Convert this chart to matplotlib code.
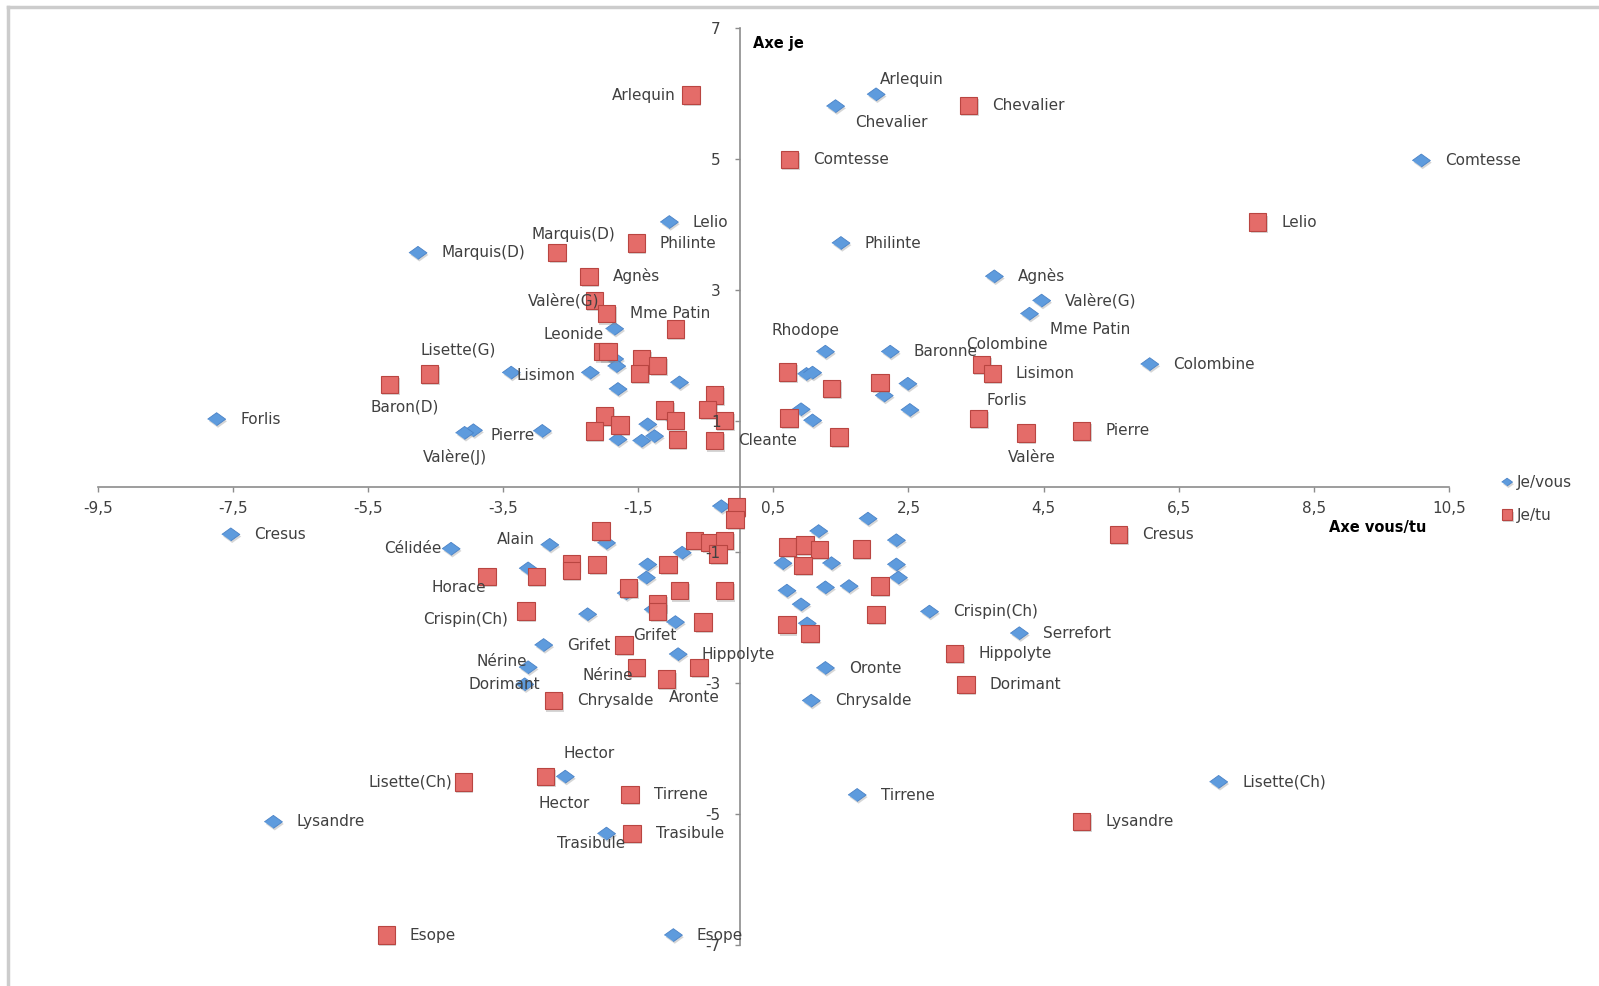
import matplotlib
matplotlib.use("Agg")
import matplotlib.pyplot as plt
import matplotlib.patheffects as pe
from matplotlib.lines import Line2D
from matplotlib.ticker import FixedLocator, FuncFormatter

# Je/vous series (blue diamonds) -- '' = no label
vous_names = ['Arlequin', 'Chevalier', 'Comtesse', 'Lelio', 'Philinte', 'Marquis(D)',
              'Agnès', 'Valère(G)', 'Mme Patin', 'Leonide', 'Rhodope', 'Baronne',
              'Colombine', 'Lisimon', 'Forlis', 'Pierre', 'Valère(J)', 'Cresus',
              'Célidée', 'Alain', 'Crispin(Ch)', 'Serrefort', 'Grifet', 'Hippolyte',
              'Nérine', 'Dorimant', 'Oronte', 'Chrysalde', 'Hector', 'Tirrene',
              'Lisette(Ch)', 'Lysandre', 'Trasibule', 'Esope'] + [''] * 40
vous_x = [2.02, 1.42, 10.09, -1.04, 1.50, -4.76, 3.77, 4.47, 4.29, -1.85, 1.27, 2.23,
          6.07, -3.38, -7.74, -3.94, -4.07, -7.53, -4.27, -2.81, 2.81, 4.14, -2.90, -0.91,
          -3.13, -3.18, 1.27, 1.06, -2.58, 1.74, 7.09, -6.90, -1.97, -0.98,
          -2.21, -1.85, -1.82, -1.80, -0.89, -0.99, -1.36, -1.26, -1.45, -1.80,
          -2.92, 0.99, 1.08, 2.14, 2.49, 2.52, 0.91, 1.08, -0.27, -1.97,
          -0.85, -1.36, -1.38, -3.13, -1.68, -1.28, -2.25, -0.95, 1.90, 1.17,
          2.32, 1.36, 2.32, 2.35, 1.27, 1.62, 0.64, 0.70, 0.91, 1.00]
vous_y = [5.99, 5.81, 4.98, 4.04, 3.72, 3.57, 3.21, 2.84, 2.64, 2.41, 2.06, 2.06,
          1.87, 1.74, 1.03, 0.86, 0.82, -0.73, -0.95, -0.89, -1.91, -2.24, -2.42, -2.56,
          -2.76, -3.02, -2.77, -3.27, -4.43, -4.71, -4.51, -5.12, -5.30, -6.85,
          1.74, 1.95, 1.84, 1.49, 1.59, 1.04, 0.95, 0.77, 0.70, 0.72,
          0.85, 1.72, 1.74, 1.39, 1.57, 1.17, 1.18, 1.01, -0.30, -0.86,
          -1.01, -1.19, -1.39, -1.25, -1.63, -1.88, -1.95, -2.07, -0.49, -0.68,
          -0.82, -1.17, -1.19, -1.39, -1.54, -1.52, -1.17, -1.59, -1.80, -2.09]

# Je/tu series (red squares)
tu_names = ['Arlequin', 'Chevalier', 'Comtesse', 'Lelio', 'Philinte', 'Marquis(D)',
            'Agnès', 'Valère(G)', 'Mme Patin', 'Lisette(G)', 'Baron(D)', 'Colombine',
            'Lisimon', 'Forlis', 'Valère', 'Pierre', 'Cleante', 'Cresus', 'Horace',
            'Crispin(Ch)', 'Grifet', 'Hippolyte', 'Nérine', 'Aronte', 'Dorimant',
            'Chrysalde', 'Hector', 'Lisette(Ch)', 'Tirrene', 'Trasibule', 'Lysandre',
            'Esope'] + [''] * 48
tu_x = [-0.72, 3.39, 0.74, 7.67, -1.53, -2.70, -2.23, -2.15, -1.97, -4.59, -5.18, 3.58,
        3.74, 3.54, 4.24, 5.06, -0.37, 5.61, -3.74, -3.16, -1.71, 3.18, -1.53, -1.08,
        3.35, -2.75, -2.87, -4.09, -1.62, -1.59, 5.06, -5.23,
        -2.02, -1.95, -1.45, -1.21, -1.48, -0.95, -0.37, -0.47, -0.22, -1.11,
        -0.95, -2.00, -1.77, -2.15, -0.92, 0.71, 1.36, 2.08, 0.73, 1.47,
        -0.05, -0.07, -2.05, -0.67, -0.44, -0.22, -0.32, -1.06, -2.49, -2.49,
        -2.11, -3.01, -1.64, -0.89, -0.22, -1.21, -1.21, -0.54, -0.60, 0.71,
        0.97, 1.18, 1.80, 0.94, 2.08, 2.02, 0.70, 1.04]
tu_y = [5.98, 5.82, 5.00, 4.04, 3.72, 3.58, 3.21, 2.84, 2.64, 1.72, 1.56, 1.87,
        1.73, 1.04, 0.82, 0.85, 0.70, -0.73, -1.37, -1.90, -2.42, -2.55, -2.76, -2.94,
        -3.02, -3.27, -4.43, -4.51, -4.70, -5.30, -5.11, -6.85,
        2.06, 2.06, 1.95, 1.85, 1.73, 2.41, 1.40, 1.18, 1.01, 1.17,
        1.01, 1.08, 0.94, 0.85, 0.72, 1.75, 1.50, 1.59, 1.05, 0.76,
        -0.31, -0.50, -0.68, -0.82, -0.85, -0.82, -1.03, -1.19, -1.17, -1.28,
        -1.19, -1.37, -1.55, -1.59, -1.59, -1.78, -1.91, -2.07, -2.76, -0.92,
        -0.89, -0.96, -0.95, -1.20, -1.52, -1.95, -2.11, -2.24]

x_ticks = [-9.5, -7.5, -5.5, -3.5, -1.5, 0.5, 2.5, 4.5, 6.5, 8.5, 10.5]
y_ticks = [-7, -5, -3, -1, 1, 3, 5, 7]

# label placement (offset in points, alignment); default is to the right
right = (17, 0, 'left')
vous_lab = {'Arlequin': (3, 11, 'left'), 'Chevalier': (14, -12, 'left'),
            'Mme Patin': (15, -11, 'left'), 'Leonide': (-8, -4, 'right'),
            'Rhodope': (-14, 15, 'center'), 'Lisimon': (4, -2, 'left'),
            'Pierre': (12, -4, 'left'), 'Valère(J)': (-7, -17, 'center'),
            'Célidée': (-7, 0, 'right'), 'Alain': (-11, 4, 'right'),
            'Nérine': (-1, 4, 'right'), 'Dorimant': (-15, 0, 'center'),
            'Hector': (17, 17, 'center'), 'Trasibule': (-11, -7, 'center')}
tu_lab = {'Arlequin': (-11, 0, 'right'), 'Marquis(D)': (12, 13, 'center'),
          'Valère(G)': (4, 0, 'right'), 'Lisette(G)': (21, 17, 'center'),
          'Baron(D)': (11, -16, 'center'), 'Colombine': (18, 14, 'center'),
          'Forlis': (20, 13, 'center'), 'Valère': (4, -18, 'center'),
          'Horace': (-20, -8, 'center'), 'Crispin(Ch)': (-13, -6, 'right'),
          'Grifet': (22, 7, 'center'), 'Nérine': (-2, -6, 'right'),
          'Aronte': (20, -13, 'center'), 'Hector': (13, -19, 'center'),
          'Lisette(Ch)': (-8, 0, 'right')}

plt.rcParams['font.family'] = ['DejaVu Sans']
txt_col = '#404040'
axis_col = '#8c8c8c'
blue, blue_edge = '#5E9BDD', '#4A82C6'
red, red_edge = '#E46C69', '#B94541'
diamond = [(-1, 0), (0, 0.72), (1, 0), (0, -0.72)]
shadow = [pe.SimplePatchShadow(offset=(1, -1.5), shadow_rgbFace='0.55', alpha=0.35),
          pe.Normal()]

fig = plt.figure(figsize=(15.99, 9.86), dpi=100)
ax = fig.add_axes([0.0611, 0.0416, 0.8451, 0.9297])

ax.plot(vous_x, vous_y, ls='none', marker=diamond, ms=13, mfc=blue, mec=blue_edge,
        mew=0.6, clip_on=False, zorder=3, path_effects=shadow, label='Je/vous')
ax.plot(tu_x, tu_y, ls='none', marker='s', ms=12.5, mfc=red, mec=red_edge,
        mew=0.8, clip_on=False, zorder=4, path_effects=shadow, label='Je/tu')

for xs, ys, names, lab in ((vous_x, vous_y, vous_names, vous_lab),
                           (tu_x, tu_y, tu_names, tu_lab)):
    for x, y, n in zip(xs, ys, names):
        if not n:
            continue
        dx, dy, ha = lab.get(n, right)
        ax.annotate(n, (x, y), xytext=(dx, dy), textcoords='offset points',
                    ha=ha, va='center', fontsize=11, color=txt_col, zorder=6)

ax.set_xlim(-9.5, 10.5)
ax.set_ylim(-7, 7)
for s in ('top', 'right'):
    ax.spines[s].set_visible(False)
ax.spines['left'].set_position(('data', 0))
ax.spines['bottom'].set_position(('data', 0))
for s in ('left', 'bottom'):
    ax.spines[s].set_color(axis_col)
    ax.spines[s].set_linewidth(1.2)
ax.xaxis.set_major_locator(FixedLocator(x_ticks))
ax.yaxis.set_major_locator(FixedLocator(y_ticks))
fmt = FuncFormatter(lambda v, p: f"{v:g}".replace('.', ','))
ax.xaxis.set_major_formatter(fmt)
ax.yaxis.set_major_formatter(fmt)
ax.tick_params(axis='both', direction='out', length=3.5, width=1, color=axis_col,
               labelsize=11, labelcolor=txt_col)
ax.tick_params(axis='x', pad=7)
ax.tick_params(axis='y', pad=10)
# tick labels sit on top of the markers, as in the original
ax.xaxis.set_zorder(5)
ax.yaxis.set_zorder(5)

ax.text(0.485, 0.983, 'Axe je', transform=ax.transAxes, ha='left', va='center',
        fontsize=10.5, fontweight='bold', color='black')
ax.text(0.947, 0.455, 'Axe vous/tu', transform=ax.transAxes, ha='center', va='center',
        fontsize=10.5, fontweight='bold', color='black')

ax.legend(loc='upper left', bbox_to_anchor=(0.9387, 0.5178), bbox_transform=fig.transFigure,
          frameon=False, borderpad=0, borderaxespad=0, handlelength=0.8,
          handletextpad=0.25, labelspacing=1.15, markerscale=0.6,
          prop={'size': 11}, labelcolor=txt_col)

# light chart-area border (left and top edges visible)
fig.add_artist(Line2D([8 / 1599, 8 / 1599], [0, 1 - 7 / 986], color='#cccccc', lw=2.5,
                      transform=fig.transFigure))
fig.add_artist(Line2D([8 / 1599, 1], [1 - 7 / 986, 1 - 7 / 986], color='#cccccc', lw=2.5,
                      transform=fig.transFigure))

fig.savefig('out.png', dpi=100)
